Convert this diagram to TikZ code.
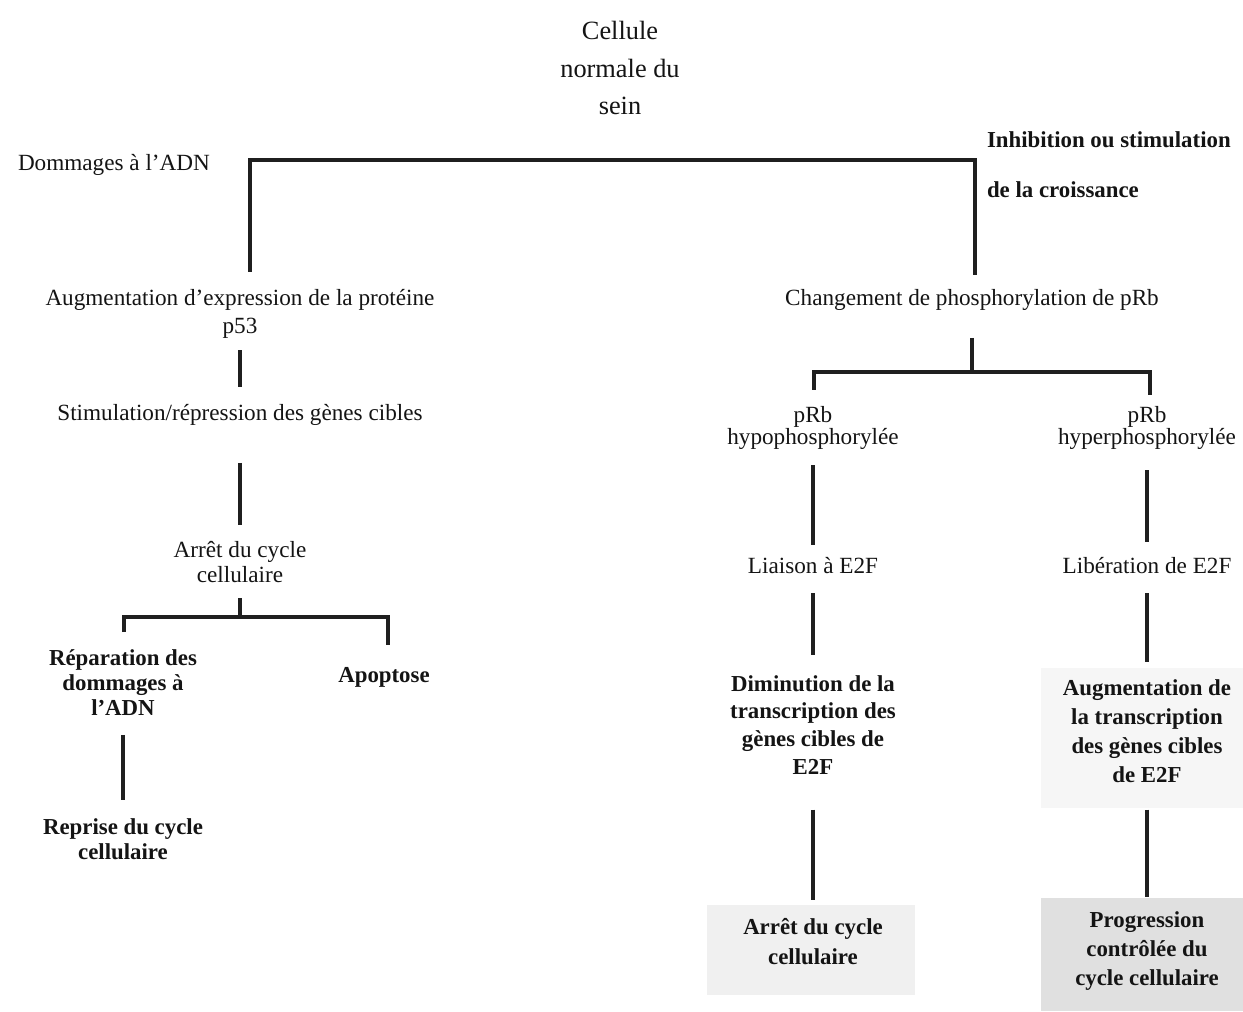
\documentclass[tikz,border=0pt]{standalone}
\usepackage{fontspec}
\setmainfont{Liberation Serif}
\begin{document}
\begin{tikzpicture}[x=0.02cm,y=-0.02cm,
  txt/.style={inner sep=0pt, outer sep=0pt, align=center, text=black!92},
  lh/.style={font=\fontsize{13.2}{#1}\selectfont},
  lh/.default=16,
  bf/.style={font=\fontsize{13}{#1}\selectfont\bfseries},
  bf/.default=16,
  conn/.style={line width=2.3pt, draw=black!88, line join=miter},
  shade/.style={draw=none}
]
\useasboundingbox (0,0) rectangle (1243,1011);
\fill[white] (0,0) rectangle (1243,1011);

% shaded result areas
\fill[shade, fill=gray!7] (1041,668) rectangle (1243,808);
\fill[shade, fill=gray!12] (707,905) rectangle (915,995);
\fill[shade, fill=gray!24] (1041,898) rectangle (1243,1011);

% nodes
\node[txt, font=\fontsize{15}{21.5}\selectfont] (cell) at (620,68) {Cellule\\normale du\\sein};
\node[txt, lh, anchor=west] (dom) at (18,165) {Dommages à l'ADN};
\node[txt, bf=28.3, anchor=west, align=left] (inh) at (987,165) {Inhibition ou stimulation\\de la croissance};

\node[txt, lh=15.9] (aug) at (240,314) {Augmentation d'expression de la protéine\\p53};
\node[txt, lh] (chg) at (972,300) {Changement de phosphorylation de pRb};
\node[txt, lh] (stim) at (240,415) {Stimulation/répression des gènes cibles};
\node[txt, lh=14.2] (arr1) at (240,562) {Arrêt du cycle\\cellulaire};
\node[txt, bf=14.2] (rep) at (123,683) {Réparation des\\dommages à\\l'ADN};
\node[txt, bf] (apo) at (384,677) {Apoptose};
\node[txt, bf=14.2] (repr) at (123,839) {Reprise du cycle\\cellulaire};

\node[txt, lh=12.5] (hypo) at (813,428) {pRb\\hypophosphorylée};
\node[txt, lh=12.5] (hyper) at (1147,428) {pRb\\hyperphosphorylée};
\node[txt, lh] (lia) at (813,566) {Liaison à E2F};
\node[txt, lh] (lib) at (1147,566) {Libération de E2F};
\node[txt, bf=15.9] (dim) at (813,725) {Diminution de la\\transcription des\\gènes cibles de\\E2F};
\node[txt, bf=16.4] (augt) at (1147,731) {Augmentation de\\la transcription\\des gènes cibles\\de E2F};
\node[txt, bf=17] (arr2) at (813,942) {Arrêt du cycle\\cellulaire};
\node[txt, bf=16.4] (prog) at (1147,951) {Progression\\contrôlée du\\cycle cellulaire};

% bracket corners
\coordinate (tl) at (250,160);
\coordinate (tr) at (975,160);
\coordinate (bl) at (124,617);
\coordinate (br) at (388,617);
\coordinate (bl2) at (814,372);
\coordinate (br2) at (1150,372);

% connectors - left
\draw[conn, shorten <=10pt, shorten >=8.3pt] (aug.north -| tl) |- (tr) -- (chg.north -| tr);
\draw[conn, shorten <=6.8pt, shorten >=10pt] (aug.south) -- (stim.north);
\draw[conn, shorten <=21.3pt, shorten >=9.4pt] (stim.south) -- (arr1.north);
\draw[conn, shorten <=8.8pt] (arr1.south) -- (arr1.south |- bl);
\draw[conn, shorten <=10.2pt, shorten >=12.3pt] (rep.north -| bl) |- (br) -- (apo.north -| br);
\draw[conn, shorten <=10.8pt, shorten >=10.5pt] (rep.south) -- (repr.north);

% connectors - right
\draw[conn, shorten <=15.6pt] (chg.south) -- (chg.south |- bl2);
\draw[conn, shorten <=9.6pt, shorten >=6.7pt] (hypo.north -| bl2) |- (br2) -- (hyper.north -| br2);
\draw[conn, shorten <=9pt, shorten >=7.4pt] (hypo.south) -- (lia.north);
\draw[conn, shorten <=11.9pt, shorten >=9pt] (hyper.south) -- (lib.north);
\draw[conn, shorten <=10.8pt, shorten >=11.4pt] (lia.south) -- (dim.north);
\draw[conn, shorten <=10.8pt, shorten >=10pt] (lib.south) -- (augt.north);
\draw[conn, shorten <=19.8pt, shorten >=10.8pt] (dim.south) -- (arr2.north);
\draw[conn, shorten <=15.6pt, shorten >=8.3pt] (augt.south) -- (prog.north);
\end{tikzpicture}
\end{document}
